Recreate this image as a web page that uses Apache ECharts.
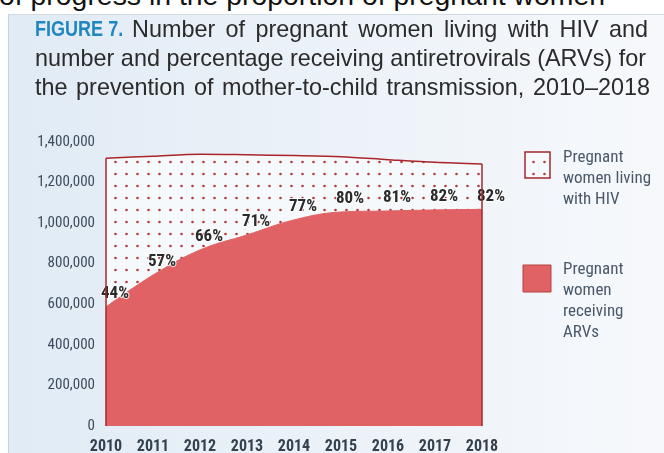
<!DOCTYPE html>
<html>
<head>
<meta charset="utf-8">
<script src="https://cdn.jsdelivr.net/npm/echarts@6/dist/echarts.min.js"></script>
<style>
html,body{margin:0;padding:0;background:#fff;overflow:hidden;}
#wrap{position:relative;width:664px;height:453px;overflow:hidden;background:#fff;}
#cut{position:absolute;left:-1px;top:-18px;font:28.4px "Liberation Sans",Arial,sans-serif;line-height:27px;color:#111;white-space:nowrap;}
#panel{position:absolute;left:8px;top:14px;width:670px;height:450px;background:linear-gradient(to right,#e1ebf5,#f7f9fc);border-left:1px solid #c6d2de;border-top:1px solid #d4dbe2;}
#chart{position:absolute;left:0;top:0;width:664px;height:453px;}
</style>
</head>
<body>
<div id="wrap">
<div id="cut">of progress in the proportion of pregnant women</div>
<div id="panel"></div>
<div id="chart"></div>
</div>
<script>
var years = ['2010','2011','2012','2013','2014','2015','2016','2017','2018'];
var hivWomen = [1320000,1330000,1340000,1337000,1333000,1327000,1313000,1300000,1292000];
var arvWomen = [587000,744000,868000,942000,1016000,1055000,1060000,1065000,1068000];
var arvPercent = ['44%','57%','66%','71%','77%','80%','81%','82%','82%'];
var yTicks = [0,200000,400000,600000,800000,1000000,1200000,1400000];
var titleLines = [
  'Number of pregnant women living with HIV and',
  'number and percentage receiving antiretrovirals (ARVs) for',
  'the prevention of mother-to-child transmission, 2010\u20132018'
];

var SANS = '"Liberation Sans",Arial,sans-serif';
var COND = 'Roboto,"Liberation Sans",sans-serif';
var TFONT = '23.4px ' + SANS;

function dotPattern(){
  var c = document.createElement('canvas');
  c.width = 11; c.height = 12;
  var g = c.getContext('2d');
  g.fillStyle = '#f6f9fb';
  g.fillRect(0,0,11,12);
  g.fillStyle = '#b23a3c';
  g.beginPath();
  g.arc(5.5,6,1.3,0,Math.PI*2);
  g.fill();
  return c;
}
var pat = dotPattern();

var mctx = document.createElement('canvas').getContext('2d');
function justify(line, x0, x1, y, font, fill){
  mctx.font = font;
  var words = line.split(' ');
  var total = 0;
  words.forEach(function(w){ total += mctx.measureText(w).width; });
  var gap = (x1 - x0 - total) / (words.length - 1);
  var x = x0, out = [];
  words.forEach(function(w){
    out.push({type:'text', x:x, y:y, silent:true, style:{x:0,y:0,text:w,font:font,fill:fill,textVerticalAlign:'top'}});
    x += mctx.measureText(w).width + gap;
  });
  return out;
}

function txt(x, y, text, font, fill, sx, lh){
  return {type:'text', x:x, y:y, scaleX:sx||1, silent:true,
    style:{x:0, y:0, text:text, font:font, fill:fill, textVerticalAlign:'top', lineHeight:lh||undefined}};
}

var graphics = [
  txt(35, 19, 'FIGURE 7.', 'bold 22px '+SANS, '#1f87bf', 0.82)
];
graphics = graphics
  .concat(justify(titleLines[0], 132, 648, 19, TFONT, '#2b2b2b'))
  .concat(justify(titleLines[1], 35, 646, 48, TFONT, '#2b2b2b'))
  .concat(justify(titleLines[2], 35, 650, 77, TFONT, '#2b2b2b'));
graphics.push(
  {type:'rect', shape:{x:525,y:152,width:25,height:26}, style:{fill:{image:pat, repeat:'repeat'}, stroke:'#a5282c', lineWidth:1.5}},
  txt(563, 147, 'Pregnant\nwomen living\nwith HIV', 'semi-condensed 17px Roboto, sans-serif', '#4a5868', 1, 21),
  {type:'rect', shape:{x:523,y:265,width:28,height:27}, style:{fill:'#e06265', stroke:'#b8403f', lineWidth:1}},
  txt(563, 259, 'Pregnant\nwomen\nreceiving\nARVs', 'semi-condensed 17px Roboto, sans-serif', '#4a5868', 1, 21)
);

var chart = echarts.init(document.getElementById('chart'), null, {renderer:'canvas'});

var option = {
  animation:false,
  backgroundColor:'transparent',
  graphic:graphics,
  grid:{left:106, right:182, top:142, bottom:27, containLabel:false, outerBoundsMode:'none'},
  xAxis:{
    type:'category', data:years, boundaryGap:false,
    axisLine:{show:false}, axisTick:{show:false}, splitLine:{show:false},
    axisLabel:{margin:13, color:'#34414f', fontFamily:COND, fontStyle:'condensed', fontSize:16, fontWeight:'bold'}
  },
  yAxis:{
    type:'value', min:0, max:1400000, interval:200000,
    axisLine:{show:false}, axisTick:{show:false}, splitLine:{show:false},
    axisLabel:{margin:11, color:'#3d4b5c', fontFamily:COND, fontStyle:'condensed', fontSize:15,
      formatter:function(v){return yTicks.indexOf(v)>=0 ? v.toLocaleString('en-US') : '';}}
  },
  series:[
    {
      name:'Pregnant women living with HIV', type:'line', data:hivWomen, smooth:0.3,
      symbol:'none', z:2,
      lineStyle:{color:'#a8262b', width:1.5},
      areaStyle:{color:{image:pat, repeat:'repeat'}, opacity:1},
      markLine:{
        silent:true, symbol:'none', animation:false,
        lineStyle:{color:'#a8262b', width:1.5, type:'solid'},
        label:{show:false},
        data:[
          [{coord:[years[0],0]},{coord:[years[0],hivWomen[0]]}],
          [{coord:[years[years.length-1],0]},{coord:[years[years.length-1],hivWomen[hivWomen.length-1]]}]
        ]
      }
    },
    {
      name:'Pregnant women receiving ARVs', type:'line', data:arvWomen, smooth:0.4,
      showSymbol:true, symbol:'circle', symbolSize:1, z:3,
      itemStyle:{color:'rgba(0,0,0,0)'},
      lineStyle:{color:'#e06265', width:1},
      areaStyle:{color:'#e06265', opacity:1},
      label:{
        show:true, position:[9.5,-12.5], align:'center', verticalAlign:'middle',
        formatter:function(p){return arvPercent[p.dataIndex];},
        fontFamily:COND, fontStyle:'condensed', fontSize:17, fontWeight:'bold', color:'#2a2a2a',
        textBorderColor:'rgba(255,255,255,0.9)', textBorderWidth:2
      },
      labelLayout:{hideOverlap:false}
    }
  ]
};
chart.setOption(option);
</script>
</body>
</html>
